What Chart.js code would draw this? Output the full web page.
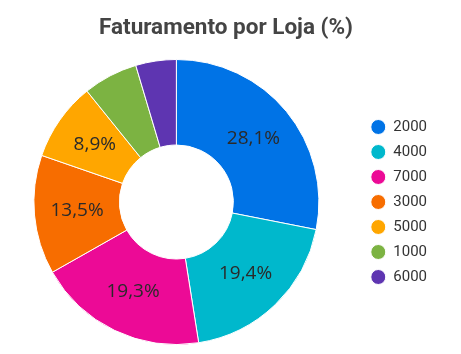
<!DOCTYPE html>
<html>
<head>
<meta charset="utf-8">
<script src="https://cdn.jsdelivr.net/npm/chart.js@4"></script>
<style>
  html, body { margin: 0; padding: 0; background: #fff; overflow: hidden; }
  #wrap { width: 461px; height: 354px; position: relative; overflow: hidden; }
  #titulo {
    position: absolute; left: 0; top: 12px; width: 452px; text-align: center;
    font: bold 22.5px Roboto, sans-serif; color: #444; line-height: 28px;
  }
  canvas { position: absolute; left: -8px; top: 0; }
</style>
</head>
<body>
<div id="wrap">
  <canvas id="myChart" width="469" height="354"></canvas>
  <div id="titulo">Faturamento por Loja (%)</div>
</div>
<script>
const lojas = ["2000", "4000", "7000", "3000", "5000", "1000", "6000"];
const faturamento = [28.1, 19.4, 19.3, 13.5, 8.9, 6.2, 4.6];
const cores = ["#0073e6", "#00b8cc", "#ec0a96", "#f76d00", "#ffa600", "#7cb342", "#5e35b1"];

// labels written inside the bigger slices
const sliceLabels = {
  id: "sliceLabels",
  afterDatasetsDraw(chart) {
    const ctx = chart.ctx;
    const meta = chart.getDatasetMeta(0);
    ctx.save();
    ctx.font = "19px 'Open Sans', sans-serif";
    ctx.fillStyle = "#2a2a2a";
    ctx.textAlign = "center";
    ctx.textBaseline = "middle";
    meta.data.forEach((arc, i) => {
      const v = faturamento[i];
      if (v < 8) return;
      const pos = arc.tooltipPosition();
      ctx.fillText(v.toFixed(1).replace(".", ",") + "%", pos.x, pos.y);
    });
    ctx.restore();
  },
};

var ctx = document.getElementById("myChart").getContext("2d");
var myChart = new Chart(ctx, {
  type: "doughnut",
  data: {
    labels: lojas,
    datasets: [
      {
        data: faturamento,
        backgroundColor: cores,
        borderColor: "#ffffff",
        borderWidth: 1,
      },
    ],
  },
  options: {
    responsive: false,
    animation: false,
    cutout: "40%",
    layout: { padding: { left: 0, right: 24, top: 59, bottom: 9 } },
    plugins: {
      title: { display: false },
      legend: {
        position: "right",
        labels: {
          usePointStyle: true,
          pointStyle: "circle",
          boxWidth: 15,
          boxHeight: 10.6,
          padding: 10,
          color: "#333",
          font: { family: "Roboto", size: 15 },
        },
      },
      tooltip: { enabled: false },
    },
  },
  plugins: [sliceLabels],
});
</script>
</body>
</html>
